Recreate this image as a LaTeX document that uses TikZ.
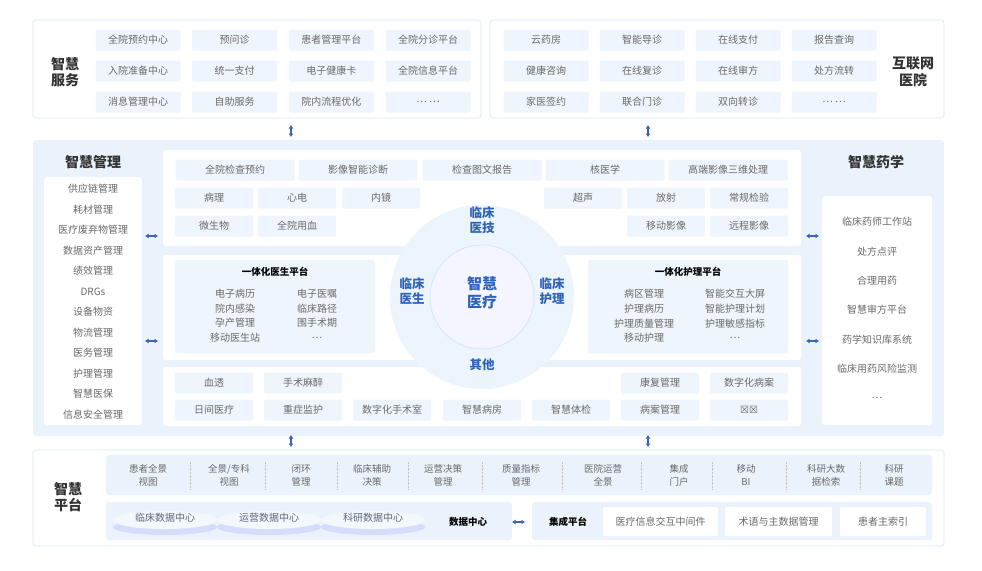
\documentclass[tikz,border=0pt]{standalone}
\usepackage{fontspec}
\setmainfont{Noto Sans CJK SC}
\newfontfamily\symfont{DejaVu Sans}
\usetikzlibrary{arrows.meta,calc}
\definecolor{tblue}{HTML}{2F63B8}
\definecolor{pbg}{HTML}{EAF3FB}
\definecolor{cbg}{HTML}{EEF5FC}
\definecolor{gtxt}{HTML}{6A6A6A}
\definecolor{bord}{HTML}{D6E6F5}
\definecolor{arr}{HTML}{3F63B5}
\begin{document}
\begin{tikzpicture}[x=1pt,y=-1pt,
 outer/.style={draw=bord,fill=white,rounded corners=3pt,line width=0.6pt},
 panel/.style={fill=pbg,rounded corners=3pt},
 wpanel/.style={fill=white,rounded corners=3pt},
 cell/.style={fill=cbg,rounded corners=2pt,minimum height=21pt,text=gtxt,font=\fontsize{10}{11}\selectfont,inner sep=0pt},
 txt/.style={text=gtxt,font=\fontsize{10}{11}\selectfont,inner sep=0pt},
 ttl/.style={font=\fontsize{14}{16.5}\selectfont\bfseries,text=black!80,align=center,inner sep=0pt},
 btl/.style={font=\fontsize{12.5}{14.5}\selectfont\bfseries,text=tblue,align=center,inner sep=0pt},
 sub/.style={font=\fontsize{9.5}{10}\selectfont\bfseries,text=black,inner sep=0pt},
 dar/.style={{Latex[length=3.5pt,width=5pt]}-{Latex[length=3.5pt,width=5pt]},draw=arr,line width=1.4pt}]
\useasboundingbox (0,0) rectangle (982,570);
% ---------- top ----------
\draw[outer] (33,20) rectangle (481,118);
\draw[outer] (490,20) rectangle (944,118);
\node[ttl] (svc) at (65,72) {智慧\\服务};
\node[ttl] (web) at (913,72) {互联网\\医院};
\foreach \t [count=\i] in {全院预约中心,预问诊,患者管理平台,全院分诊平台,入院准备中心,统一支付,电子健康卡,全院信息平台,消息管理中心,自助服务,院内流程优化,… …}{
 \pgfmathsetmacro\c{mod(\i-1,4)}\pgfmathsetmacro\r{int((\i-1)/4)}
 \node[cell,minimum width=85pt] (tl\i) at ({138+\c*96.7},{40+\r*31}) {\t};}
\foreach \t [count=\i] in {云药房,智能导诊,在线支付,报告查询,健康咨询,在线复诊,在线审方,处方流转,家医签约,联合门诊,双向转诊,… …}{
 \pgfmathsetmacro\c{mod(\i-1,4)}\pgfmathsetmacro\r{int((\i-1)/4)}
 \node[cell,minimum width=85pt] (tr\i) at ({546+\c*96},{40+\r*31}) {\t};}
% ---------- middle ----------
\fill[panel] (33,140) rectangle (944,436);
\node[ttl] (mgt) at (93,162) {智慧管理};
\fill[wpanel] (44,177) rectangle (142,425);
\foreach \t [count=\i] in {供应链管理,耗材管理,医疗废弃物管理,数据资产管理,绩效管理,DRGs,设备物资,物流管理,医务管理,护理管理,智慧医保,信息安全管理}{
 \node[txt] (ml\i) at (93,{189+(\i-1)*20.5}) {\t};}
\node[ttl] (phm) at (876,162) {智慧药学};
\fill[wpanel] (822,196) rectangle (932,425);
\foreach \t [count=\i] in {临床药师工作站,处方点评,合理用药,智慧审方平台,药学知识库系统,临床用药风险监测,…}{
 \node[txt] (pr\i) at (877,{222+(\i-1)*29.3}) {\t};}
\fill[wpanel] (163,150) rectangle (801,246);
\fill[wpanel] (163,255) rectangle (801,360);
\fill[wpanel] (163,367) rectangle (801,426);
\foreach \t/\x in {全院检查预约/235,影像智能诊断/358,检查图文报告/482,核医学/605,高端影像三维处理/728}
 \node[cell,minimum width=119pt] at (\x,170) {\t};
\foreach \t/\x/\y in {病理/214/198,心电/297/198,内镜/381/198,超声/583/198,放射/666/198,常规检验/749/198,微生物/214/226,全院用血/297/226,移动影像/666/226,远程影像/749/226}
 \node[cell,minimum width=78pt] at (\x,\y) {\t};
\foreach \t/\x/\y in {血透/214/383,手术麻醉/303/383,康复管理/660/383,数字化病案/749/383,日间医疗/214/410,重症监护/303/410,数字化手术室/392/410,智慧病房/482/410,智慧体检/571/410,病案管理/660/410,{\symfont ☒☒}/749/410}
 \node[cell,minimum width=78pt] at (\x,\y) {\t};
\fill[cbg,rounded corners=3pt] (175,260) rectangle (375,353);
\fill[cbg,rounded corners=3pt] (588,260) rectangle (788,353);
\node[sub] (dp) at (275,272) {一体化医生平台};
\node[sub] (np) at (688,272) {一体化护理平台};
\foreach \a/\b [count=\i] in {电子病历/电子医嘱,院内感染/临床路径,孕产管理/围手术期,移动医生站/…}{
 \node[txt] at (235,{294+(\i-1)*14.6}) {\a}; \node[txt] at (317,{294+(\i-1)*14.6}) {\b};}
\foreach \a/\b [count=\i] in {病区管理/智能交互大屏,护理病历/智能护理计划,护理质量管理/护理敏感指标,移动护理/…}{
 \node[txt] at (644,{294+(\i-1)*14.6}) {\a}; \node[txt] at (735,{294+(\i-1)*14.6}) {\b};}
% circle
\fill[cbg!60!pbg] (482,297) circle (92);
\fill[blue!4!white] (482,297) circle (52);
\draw[bord,line width=0.8pt] (482,297) circle (52);
\foreach \a in {45,135,225,315} \draw[white!70!bord,line width=0.6pt] ($(482,297)+(\a:52)$) -- ($(482,297)+(\a:92)$);
\node[btl] (c1) at (482,220) {临床\\医技};
\node[btl] (c2) at (412,291) {临床\\医生};
\node[btl] (c3) at (552,291) {临床\\护理};
\node[btl] (c4) at (482,365) {其他};
\node[btl,font=\fontsize{15}{18}\selectfont\bfseries] (c0) at (482,293) {智慧\\医疗};
% ---------- bottom ----------
\draw[outer] (33,450) rectangle (944,546);
\node[ttl] (plat) at (68,497) {智慧\\平台};
\fill[pbg,rounded corners=3pt] (106,455) rectangle (932,495);
\foreach \a/\b/\x in {患者全景/视图/148,{全景/专科}/视图/229,闭环/管理/301,临床辅助/决策/372,运营决策/管理/443,质量指标/管理/521,医院运营/全景/603,集成/门户/679,移动/BI/746,科研大数/据检索/826,科研/课题/894}
 \node[txt,align=center,font=\fontsize{9.5}{13}\selectfont] at (\x,475) {\a\\\b};
\foreach \x in {190,265,337,408,482,562,641,712,786,860} \draw[densely dotted,gtxt!40] (\x,462) -- (\x,489);
\fill[pbg,rounded corners=3pt] (106,502) rectangle (512,540);
\fill[pbg,rounded corners=3pt] (532,502) rectangle (932,540);
\foreach \t/\x in {临床数据中心/165,运营数据中心/269,科研数据中心/373}{
 \fill[blue!10!cbg] (\x,527) ellipse (52 and 8);
 \fill[cbg!70!white] (\x,520) ellipse (52 and 9);
 \node[txt,text=gtxt!80!tblue] at (\x,518) {\t};}
\node[sub] (dc) at (468,522) {数据中心};
\node[sub] (ip) at (568,522) {集成平台};
\foreach \t/\a/\b in {医疗信息交互中间件/603/718,术语与主数据管理/725/832,患者主索引/840/926}{
 \fill[white,rounded corners=2pt] (\a,507) rectangle (\b,536);
 \node[txt] at ({(\a+\b)/2},522) {\t};}
% ---------- arrows ----------
\foreach \x in {291,648}{
 \coordinate (u\x) at (\x,125); \coordinate (v\x) at (\x,137);
 \draw[dar] (u\x) -- (v\x);
 \coordinate (p\x) at (\x,435); \coordinate (q\x) at (\x,447);
 \draw[dar] (p\x) -- (q\x);}
\foreach \y in {236,341}{
 \coordinate (a\y) at (145,\y); \coordinate (b\y) at (158,\y); \draw[dar] (a\y) -- (b\y);
 \coordinate (c\y) at (806,\y); \coordinate (d\y) at (819,\y); \draw[dar] (c\y) -- (d\y);}
\coordinate (e1) at (512,522); \coordinate (e2) at (525,522); \draw[dar] (e1) -- (e2);
\end{tikzpicture}
\end{document}
